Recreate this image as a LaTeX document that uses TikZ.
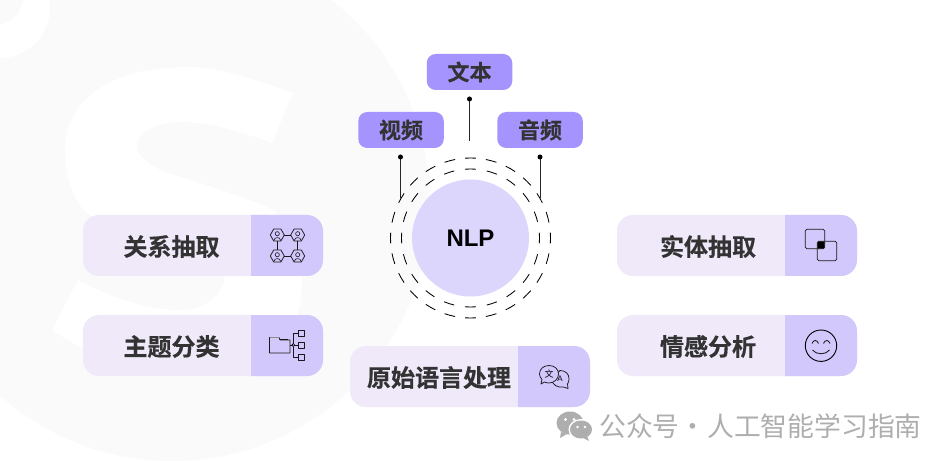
\documentclass[tikz,border=0pt]{standalone}
\usepackage{fontspec}
\newfontfamily\cjkb{Noto Sans CJK SC}
\newfontfamily\cjkh[FakeBold=0.35]{Noto Sans CJK SC Bold}
\newfontfamily\latinb{Liberation Sans}
\definecolor{lightbox}{HTML}{EFE9FA}
\definecolor{iconbox}{HTML}{D2C8FC}
\definecolor{topbox}{HTML}{A594FD}
\definecolor{hub}{HTML}{DCD6FD}
\definecolor{wm}{HTML}{FAFAFA}
\definecolor{ink}{HTML}{333333}
\definecolor{footgrey}{HTML}{AEAEAE}
\tikzset{
  lbl/.style={font=\cjkh\fontsize{24}{24}\selectfont,text=ink,inner sep=0pt,anchor=center},
  media/.style={rectangle,rounded corners=9pt,fill=topbox,minimum width=85.5pt,minimum height=36pt,inner sep=0pt,
     font=\cjkh\fontsize{22}{22}\selectfont,text=ink},
  feat/.style={rectangle,rounded corners=16pt,fill=lightbox,inner sep=0pt,minimum height=61pt},
  ring/.style={line width=0.85pt,black},
  conn/.style={line width=0.9pt,black!85},
  icon/.style={line width=0.75pt,black!90,line join=round},
}
\newcommand{\featbox}[7]{%
  \node[feat,minimum width={(#4-#2)*1pt}] (#1) at ({(#2+#4)/2},{#5+30.5}) {};
  \fill[iconbox] (#3,#5) [rounded corners=16pt] -- (#4,#5) -- (#4,{#5+61}) [sharp corners] -- (#3,{#5+61}) -- cycle;
  \node[lbl] (#1text) at (#6,{#5+31.5}) {#7};
}
\newcommand{\hexperson}[2]{%
  \draw[icon] (#1,#2) +(-7,0) -- +(-3.6,-6) -- +(3.6,-6) -- +(7,0) -- +(3.6,6) -- +(-3.6,6) -- cycle;
  \draw[icon,line width=.6pt] (#1,{#2-1.3}) circle[radius=2.1];
  \draw[icon,line width=.6pt] ({#1-3.4},{#2+5.5}) .. controls ({#1-3},{#2+1.6}) and ({#1+3},{#2+1.6}) .. ({#1+3.4},{#2+5.5});
}
\begin{document}
\begin{tikzpicture}[x=1pt,y=1pt,yscale=-1]
\useasboundingbox (0,0) rectangle (951,465);
\fill[white] (0,0) rectangle (951,465);
% watermark shape
\begin{scope}
\clip (0,0) rectangle (951,465);
\fill[wm] (172,203) circle[radius=258];
\fill[white] (0,8) circle[radius=50];
\fill[wm] (-5,-3) circle[radius=28];
\fill[white] (293,93) .. controls (255,80) and (220,67) .. (190,67)
  .. controls (110,67) and (65,100) .. (65,150)
  .. controls (65,180) and (75,205) .. (90,215)
  .. controls (140,240) and (225,250) .. (225,272)
  .. controls (225,295) and (205,310) .. (180,310)
  .. controls (145,310) and (105,295) .. (78,280)
  -- (52,330)
  .. controls (90,355) and (135,375) .. (180,375)
  .. controls (250,375) and (302,345) .. (302,285)
  .. controls (302,245) and (285,215) .. (267,207)
  .. controls (225,190) and (190,180) .. (165,172)
  .. controls (148,165) and (137,155) .. (137,146)
  .. controls (137,130) and (160,122) .. (180,122)
  .. controls (210,122) and (245,133) .. (272,143)
  -- cycle;
\end{scope}
% hub rings
\foreach \a in {0,15,...,345}{
  \draw[ring] ({470.5+80*cos(\a-3.9)},{238+80*sin(\a-3.9)}) arc[start angle=\a-3.9,end angle=\a+3.9,radius=80];
}
\foreach \a in {0,18,...,342}{
  \draw[ring] ({470.5+69*cos(\a-4.4)},{238+69*sin(\a-4.4)}) arc[start angle=\a-4.4,end angle=\a+4.4,radius=69];
}
\node[circle,fill=hub,minimum size=117pt,inner sep=0pt,font=\latinb\bfseries\fontsize{24}{24}\selectfont,text=black] (nlp) at (470.5,238) {NLP};
% media boxes
\node[media] (text) at (469.5,72) {文本};
\node[media] (video) at (401,130) {视频};
\node[media] (audio) at (540,130) {音频};
\coordinate (textdot) at (469.5,99);
\coordinate (textend) at (469.5,141);
\coordinate (videodot) at (400.5,157);
\coordinate (videoend) at (400.5,198);
\coordinate (audiodot) at (540,157);
\coordinate (audioend) at (540,198);
\foreach \n in {text,video,audio}{
  \draw[conn] (\n dot) -- (\n end);
  \fill[black] (\n dot) circle[radius=2.5];
}
% feature boxes
\featbox{rel}{83}{251}{323}{215}{171.5}{关系抽取}
\featbox{topic}{83}{251}{323}{315}{171.5}{主题分类}
\featbox{ent}{617}{785}{857}{215}{708}{实体抽取}
\featbox{sent}{617}{785}{857}{315}{708}{情感分析}
\featbox{raw}{350}{518}{590}{346}{439}{原始语言处理}
% icon: relation graph
\draw[icon] (284.3,235) -- (290.7,235) (284.3,256) -- (290.7,256) (277.3,241) -- (277.3,250) (297.7,241) -- (297.7,250);
\hexperson{277.3}{235}\hexperson{297.7}{235}\hexperson{277.3}{256}\hexperson{297.7}{256}
% icon: folder tree
\draw[icon] (269.5,353) -- (269.5,337.5) -- (279,337.5) -- (280,340) -- (290,340) -- (290,353) -- cycle;
\draw[icon,black!45] (269.5,337.5) -- (279,337.5);
\draw[icon] (279.5,339.5) -- (288,339.5);
\draw[icon] (290,345) -- (298,345);
\draw[icon] (298,333) -- (293.3,333) -- (293.3,357.5) -- (298,357.5);
\draw[icon] (298,330) rectangle (304.5,336);
\draw[icon] (298,342.5) rectangle (304.5,348.5);
\draw[icon] (298,354.5) rectangle (304.5,360.5);
\fill[iconbox,draw=black,line width=.6pt] (293.3,345) circle[radius=1.4];
% icon: overlap squares
\fill[black,rounded corners=1pt] (817.3,241.3) rectangle (824.7,248.7);
\draw[icon,rounded corners=1.5pt] (805.3,229.3) rectangle (824.7,248.7);
\draw[icon,rounded corners=1.5pt] (817.3,241.3) rectangle (836.7,260.7);
% icon: smile
\draw[line width=.9pt,black] (821,345.7) circle[radius=15.7];
\draw[icon,line width=.85pt] (812,343.5) .. controls (813.5,339.5) and (817,339.5) .. (818.5,343.5);
\draw[icon,line width=.85pt] (823.5,343.5) .. controls (825,339.5) and (828.5,339.5) .. (830,343.5);
\draw[icon,line width=.85pt] (812.5,350) .. controls (816,355) and (826,355) .. (829.5,350);
% icon: translate bubbles
\draw[icon,fill=iconbox] (560,370.5) .. controls (566,370.5) and (569,374.5) .. (569,378.5)
  .. controls (569,381) and (568.5,382.5) .. (567.5,384) -- (568,388.5) -- (563.5,387) .. controls (558,388) and (552,385) .. (551.5,379) -- cycle;
\node[font=\latinb\fontsize{8}{8}\selectfont,inner sep=0pt,text=black] (alat) at (560,378.5) {A};
\draw[icon,fill=iconbox] (549,365.5) .. controls (555,365.5) and (558.5,369.5) .. (558.5,374)
  .. controls (558.5,379) and (554,383) .. (549,383) .. controls (547,383) and (545.5,382.5) .. (544.5,382) -- (541,384) -- (542,379.5)
  .. controls (540.5,378) and (539.5,376) .. (539.5,374) .. controls (539.5,369.5) and (543,365.5) .. (549,365.5) -- cycle;
\node[font=\cjkb\fontsize{9}{9}\selectfont,inner sep=0pt,text=black] (wen) at (549,374.3) {文};
% watermark footer
\fill[footgrey] (570,423) ellipse[x radius=13.5,y radius=11.5];
\fill[footgrey] (561,432) -- (560,438) -- (567,434) -- cycle;
\fill[white] (581,429.5) ellipse[x radius=12.5,y radius=10.5];
\fill[footgrey] (581,429.5) ellipse[x radius=11,y radius=9];
\fill[footgrey] (587,436) -- (589,441) -- (583,438) -- cycle;
\fill[white] (565.5,419.5) circle[radius=1.6] (574,419.5) circle[radius=1.6] (577.5,427) circle[radius=1.3] (585,427) circle[radius=1.3];
\node[anchor=west,inner sep=0pt,font=\cjkb\fontsize{26.8}{26.8}\selectfont,text=footgrey] (footer) at (599,426.5) {公众号·\hspace{1pt}人工智能学习指南};
\end{tikzpicture}
\end{document}
